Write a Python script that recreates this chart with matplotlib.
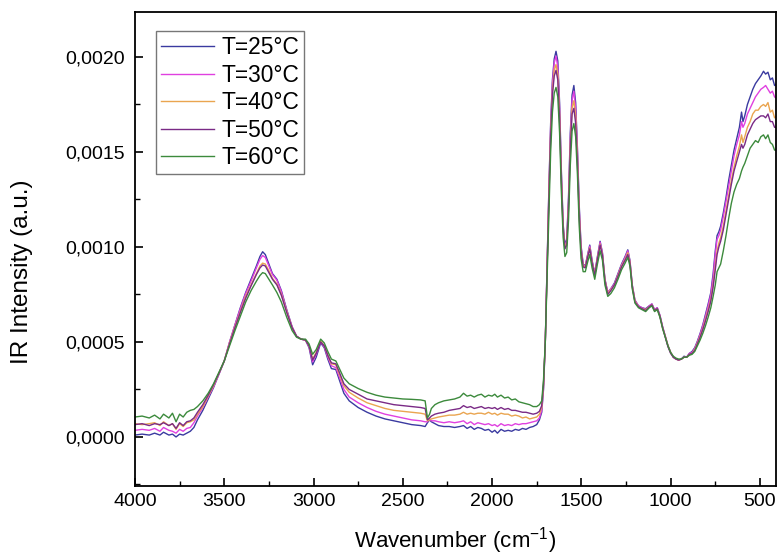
import numpy as np
import matplotlib
matplotlib.use("Agg")
import matplotlib.pyplot as plt
from matplotlib.ticker import MultipleLocator, FuncFormatter

plt.rcParams['font.family'] = ['Liberation Sans', 'DejaVu Sans']

# wavenumber (cm-1)
wavenumber = [4000, 3960, 3920, 3890, 3860, 3840, 3810, 3790, 3770, 3750, 3730, 3710, 3690, 3670, 3650,
              3620, 3590, 3560, 3530, 3500, 3470, 3440, 3410, 3380, 3350, 3320, 3300, 3285, 3270, 3250,
              3230, 3205, 3180, 3150, 3120, 3095, 3070, 3045, 3025, 3005, 2985, 2960, 2940, 2920, 2900,
              2875, 2855, 2830, 2800, 2750, 2700, 2650, 2600, 2550, 2500, 2450, 2400, 2375, 2362, 2350,
              2340, 2320, 2300, 2270, 2240, 2210, 2180, 2160, 2140, 2120, 2100, 2080, 2060, 2040, 2020,
              2000, 1985, 1970, 1950, 1930, 1910, 1890, 1870, 1850, 1830, 1810, 1790, 1770, 1750, 1735,
              1722, 1712, 1702, 1692, 1682, 1672, 1662, 1652, 1642, 1632, 1622, 1612, 1602, 1592, 1582,
              1572, 1562, 1552, 1542, 1532, 1522, 1512, 1502, 1490, 1478, 1465, 1453, 1440, 1425, 1410,
              1395, 1382, 1368, 1352, 1335, 1315, 1295, 1275, 1255, 1240, 1228, 1215, 1200, 1180, 1160,
              1140, 1120, 1105, 1090, 1075, 1060, 1045, 1030, 1015, 1000, 985, 970, 955, 940, 925,
              910, 895, 880, 865, 850, 835, 820, 805, 790, 775, 762, 750, 740, 730, 720,
              705, 690, 675, 660, 645, 630, 615, 603, 595, 585, 570, 555, 540, 525, 510,
              495, 480, 468, 455, 442, 430, 418, 405]

# intensities in units of 1e-4 a.u.
t25 = [0.1, 0.15, 0.1, 0.2, 0.1, 0.25, 0.1, 0.15, 0.0, 0.15, 0.1, 0.2, 0.3, 0.5, 0.9,
       1.4, 2.0, 2.6, 3.3, 4.0, 5.0, 5.9, 6.8, 7.6, 8.3, 9.0, 9.5, 9.75, 9.6, 9.1,
       8.6, 8.3, 7.7, 6.7, 5.8, 5.3, 5.15, 5.1, 4.7, 3.8, 4.2, 4.95, 4.7, 4.1, 3.6,
       3.55, 3.0, 2.3, 1.9, 1.55, 1.3, 1.1, 0.95, 0.85, 0.75, 0.65, 0.6, 0.55, 0.75, 0.9,
       0.8, 0.7, 0.6, 0.55, 0.55, 0.5, 0.55, 0.6, 0.45, 0.55, 0.4, 0.5, 0.45, 0.35, 0.4,
       0.25, 0.35, 0.2, 0.4, 0.3, 0.35, 0.3, 0.4, 0.35, 0.45, 0.4, 0.5, 0.55, 0.65, 0.9,
       1.3, 2.5, 5.0, 9.0, 13.0, 16.5, 18.8, 19.9, 20.3, 19.8, 17.6, 14.0, 11.2, 10.1, 10.4,
       12.6, 16.0, 18.0, 18.5, 17.6, 15.2, 12.2, 10.1, 9.1, 9.0, 9.6, 10.1, 9.3, 8.6, 9.5,
       10.3, 9.7, 8.3, 7.6, 7.8, 8.1, 8.6, 9.1, 9.5, 9.85, 9.3, 8.0, 7.2, 6.9, 6.8,
       6.75, 6.9, 7.0, 6.7, 6.8, 6.4, 5.8, 5.3, 4.8, 4.45, 4.2, 4.1, 4.05, 4.1, 4.25,
       4.2, 4.4, 4.5, 4.7, 5.05, 5.45, 5.9, 6.45, 7.0, 7.6, 8.6, 9.8, 10.6, 10.8, 11.1,
       11.8, 12.6, 13.5, 14.3, 15.1, 15.7, 16.3, 17.1, 16.6, 16.9, 17.5, 17.9, 18.3, 18.6, 18.8,
       19.0, 19.25, 19.1, 19.2, 18.8, 18.9, 18.5, 18.6]

t30 = [0.35, 0.4, 0.35, 0.45, 0.3, 0.5, 0.35, 0.3, 0.2, 0.4, 0.3, 0.45, 0.5, 0.75, 1.1,
       1.55, 2.1, 2.65, 3.3, 4.0, 5.0, 5.9, 6.75, 7.55, 8.2, 8.9, 9.35, 9.55, 9.45, 9.0,
       8.55, 8.25, 7.65, 6.65, 5.8, 5.3, 5.15, 5.1, 4.75, 3.95, 4.35, 5.0, 4.75, 4.2, 3.75,
       3.65, 3.15, 2.5, 2.1, 1.8, 1.55, 1.35, 1.2, 1.1, 1.0, 0.9, 0.85, 0.8, 0.8, 0.95,
       0.85, 0.85, 0.8, 0.75, 0.8, 0.75, 0.8, 0.85, 0.7, 0.8, 0.65, 0.75, 0.7, 0.65, 0.7,
       0.6, 0.65, 0.55, 0.7, 0.6, 0.65, 0.6, 0.7, 0.65, 0.7, 0.7, 0.75, 0.8, 0.85, 1.0,
       1.4, 2.6, 5.0, 8.9, 12.9, 16.3, 18.6, 19.7, 20.05, 19.5, 17.3, 13.8, 11.1, 10.0, 10.3,
       12.4, 15.7, 17.7, 18.2, 17.3, 15.0, 12.0, 10.0, 9.05, 9.0, 9.55, 10.05, 9.25, 8.6, 9.45,
       10.25, 9.65, 8.3, 7.6, 7.8, 8.05, 8.55, 9.05, 9.45, 9.8, 9.25, 8.0, 7.2, 6.9, 6.8,
       6.7, 6.9, 7.0, 6.7, 6.8, 6.4, 5.8, 5.3, 4.8, 4.45, 4.2, 4.1, 4.05, 4.1, 4.2,
       4.2, 4.4, 4.45, 4.65, 5.0, 5.4, 5.85, 6.35, 6.9, 7.5, 8.4, 9.6, 10.4, 10.6, 10.9,
       11.6, 12.4, 13.2, 14.0, 14.8, 15.4, 15.9, 16.6, 16.3, 16.5, 17.0, 17.3, 17.6, 17.9, 18.1,
       18.3, 18.4, 18.5, 18.3, 18.1, 18.2, 17.9, 17.8]

t40 = [0.7, 0.65, 0.7, 0.75, 0.6, 0.8, 0.6, 0.7, 0.4, 0.7, 0.55, 0.75, 0.8, 0.9, 1.2,
       1.6, 2.15, 2.7, 3.35, 4.0, 4.95, 5.8, 6.6, 7.4, 8.0, 8.6, 9.0, 9.15, 9.1, 8.75,
       8.35, 8.05, 7.5, 6.6, 5.75, 5.3, 5.15, 5.1, 4.8, 4.1, 4.45, 5.05, 4.8, 4.3, 3.85,
       3.8, 3.3, 2.7, 2.35, 2.05, 1.8, 1.65, 1.5, 1.4, 1.35, 1.3, 1.25, 1.2, 0.85, 0.9,
       0.95, 1.0, 1.05, 1.1, 1.15, 1.15, 1.2, 1.3, 1.2, 1.25, 1.2, 1.25, 1.25, 1.2, 1.3,
       1.2, 1.25, 1.15, 1.25, 1.2, 1.2, 1.1, 1.15, 1.1, 1.0, 1.05, 0.95, 1.0, 1.05, 1.2,
       1.55, 2.7, 5.0, 8.8, 12.7, 16.0, 18.2, 19.3, 19.6, 19.1, 17.0, 13.6, 11.0, 9.95, 10.2,
       12.2, 15.4, 17.3, 17.7, 16.9, 14.7, 11.8, 9.9, 9.0, 8.95, 9.5, 9.95, 9.2, 8.55, 9.4,
       10.15, 9.6, 8.25, 7.55, 7.75, 8.0, 8.5, 9.0, 9.35, 9.7, 9.2, 7.95, 7.15, 6.85, 6.75,
       6.7, 6.85, 6.95, 6.65, 6.75, 6.35, 5.75, 5.3, 4.8, 4.45, 4.2, 4.1, 4.05, 4.1, 4.2,
       4.2, 4.35, 4.4, 4.6, 4.95, 5.3, 5.7, 6.2, 6.7, 7.25, 8.0, 9.0, 9.8, 10.2, 10.5,
       11.1, 11.9, 12.7, 13.5, 14.2, 14.8, 15.3, 15.9, 15.5, 15.8, 16.3, 16.6, 17.0, 17.2, 17.2,
       17.4, 17.5, 17.4, 17.6, 17.1, 17.2, 16.8, 16.9]

t50 = [0.65, 0.7, 0.6, 0.7, 0.65, 0.75, 0.6, 0.7, 0.45, 0.75, 0.6, 0.8, 0.85, 1.0, 1.3,
       1.7, 2.2, 2.75, 3.35, 4.0, 4.9, 5.75, 6.55, 7.3, 7.95, 8.55, 8.9, 9.05, 9.0, 8.65,
       8.3, 8.0, 7.45, 6.55, 5.75, 5.3, 5.15, 5.1, 4.8, 4.05, 4.4, 5.0, 4.8, 4.3, 3.9,
       3.85, 3.4, 2.8, 2.5, 2.25, 2.0, 1.9, 1.8, 1.7, 1.65, 1.6, 1.55, 1.5, 0.9, 1.0,
       1.1, 1.2, 1.25, 1.3, 1.4, 1.45, 1.5, 1.65, 1.55, 1.6, 1.5, 1.55, 1.6, 1.5, 1.55,
       1.5, 1.55, 1.45, 1.55, 1.45, 1.5, 1.4, 1.4, 1.35, 1.3, 1.3, 1.25, 1.2, 1.25, 1.35,
       1.65, 2.8, 5.0, 8.7, 12.5, 15.8, 18.0, 19.0, 19.3, 18.8, 16.7, 13.4, 10.9, 9.9, 10.1,
       12.0, 15.1, 17.0, 17.3, 16.5, 14.4, 11.6, 9.8, 8.95, 8.9, 9.45, 9.9, 9.15, 8.5, 9.35,
       10.1, 9.55, 8.2, 7.5, 7.7, 8.0, 8.45, 8.95, 9.3, 9.6, 9.15, 7.9, 7.1, 6.85, 6.75,
       6.65, 6.85, 6.95, 6.65, 6.75, 6.35, 5.75, 5.25, 4.75, 4.4, 4.2, 4.1, 4.05, 4.1, 4.2,
       4.2, 4.35, 4.4, 4.55, 4.9, 5.25, 5.65, 6.1, 6.6, 7.15, 7.9, 8.8, 9.6, 10.0, 10.3,
       10.9, 11.7, 12.5, 13.3, 14.0, 14.5, 15.0, 15.4, 15.2, 15.4, 15.9, 16.2, 16.5, 16.7, 16.8,
       16.9, 16.9, 16.8, 17.0, 16.6, 16.6, 16.3, 16.3]

t60 = [1.05, 1.1, 1.0, 1.15, 0.95, 1.2, 1.0, 1.25, 0.8, 1.2, 1.05, 1.3, 1.4, 1.45, 1.6,
       1.9, 2.3, 2.8, 3.4, 4.0, 4.8, 5.6, 6.35, 7.1, 7.7, 8.2, 8.5, 8.65, 8.6, 8.3,
       8.0, 7.6, 7.1, 6.3, 5.6, 5.25, 5.15, 5.15, 4.9, 4.35, 4.6, 5.15, 4.95, 4.5, 4.1,
       4.0, 3.6, 3.1, 2.8, 2.55, 2.35, 2.2, 2.1, 2.05, 2.0, 1.98, 1.95, 1.9, 1.0, 1.2,
       1.5, 1.7, 1.8, 1.9, 1.95, 2.0, 2.1, 2.3, 2.15, 2.2, 2.1, 2.2, 2.25, 2.1, 2.2,
       2.15, 2.25, 2.1, 2.2, 2.05, 2.1, 1.95, 2.0, 1.85, 1.8, 1.75, 1.7, 1.6, 1.6, 1.7,
       1.9, 3.0, 5.0, 8.4, 12.0, 15.0, 17.1, 18.1, 18.4, 17.9, 16.0, 12.9, 10.5, 9.5, 9.7,
       11.4, 14.3, 16.1, 16.5, 15.8, 13.8, 11.1, 9.4, 8.7, 8.7, 9.2, 9.6, 8.9, 8.3, 9.1,
       9.8, 9.3, 8.0, 7.4, 7.55, 7.85, 8.3, 8.8, 9.15, 9.45, 9.0, 7.8, 7.05, 6.8, 6.7,
       6.6, 6.8, 6.9, 6.6, 6.7, 6.3, 5.7, 5.25, 4.8, 4.45, 4.25, 4.15, 4.1, 4.1, 4.2,
       4.2, 4.3, 4.35, 4.5, 4.8, 5.1, 5.45, 5.85, 6.3, 6.8, 7.4, 8.0, 8.7, 8.9, 9.1,
       9.8, 10.6, 11.5, 12.3, 12.9, 13.3, 13.6, 14.0, 14.2, 14.4, 14.8, 15.2, 15.4, 15.6, 15.5,
       15.8, 15.9, 15.7, 15.9, 15.5, 15.4, 15.1, 15.1]

labels = ["T=25°C", "T=30°C", "T=40°C", "T=50°C", "T=60°C"]
colors = ["#3a3aa0", "#e040e0", "#eaa550", "#7a2a86", "#3c8a3c"]
series = [t25, t30, t40, t50, t60]

fig = plt.figure(figsize=(7.77, 5.57), dpi=100)
ax = fig.add_axes([0.1737, 0.1275, 0.8250, 0.8510])

wn = np.array(wavenumber)
for vals, lab, col in zip(series, labels, colors):
    ax.plot(wn, np.array(vals) * 1e-4, color=col, lw=1.0, label=lab)

ax.set_xlim(4000, 410)
ax.set_ylim(-0.000258, 0.002237)
ax.xaxis.set_major_locator(MultipleLocator(500))
ax.xaxis.set_minor_locator(MultipleLocator(250))
ax.yaxis.set_major_locator(MultipleLocator(0.0005))
ax.yaxis.set_minor_locator(MultipleLocator(0.00025))
ax.yaxis.set_major_formatter(FuncFormatter(lambda v, p: f"{v:.4f}".replace('.', ',').replace('-0,0000', '0,0000')))
ax.tick_params(which='major', direction='in', length=6, width=1.2, labelsize=14)
ax.tick_params(axis='x', which='major', pad=5)
ax.tick_params(axis='y', which='major', pad=7)
ax.tick_params(which='minor', direction='in', length=3.5, width=1.0)
for s in ax.spines.values():
    s.set_linewidth(1.3)

ax.set_xlabel("Wavenumber (cm$^{\\mathregular{-1}}$)", fontsize=16)
ax.xaxis.set_label_coords(0.5, -0.083)
ax.set_ylabel("IR Intensity (a.u.)", fontsize=17.5)
ax.yaxis.set_label_coords(-0.159, 0.451)

leg = ax.legend(loc='upper left', bbox_to_anchor=(0.033, 0.96), fontsize=16.4,
                frameon=True, fancybox=False, edgecolor='#777777', framealpha=1,
                handlelength=2.3, handletextpad=0.35, labelspacing=0.2, borderpad=0.22,
                borderaxespad=0)
leg.get_frame().set_linewidth(1.0)

fig.savefig("out.png", dpi=100)
